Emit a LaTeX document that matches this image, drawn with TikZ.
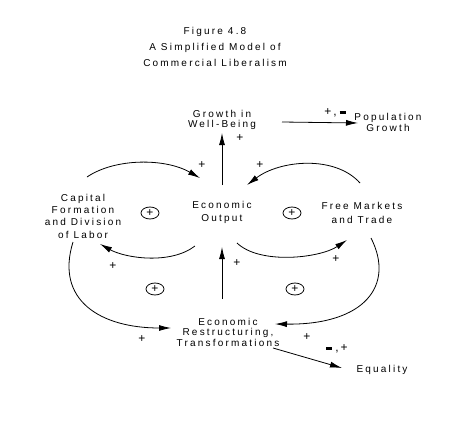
\documentclass[tikz,border=0pt]{standalone}
\usepackage{fontspec}
\newfontfamily\figfont{Liberation Sans}[LetterSpace=22]
\newfontfamily\signfont{Liberation Sans}
\usetikzlibrary{arrows.meta, calc, shapes.geometric}
\newcommand{\negsign}{\rule[0.3ex]{6pt}{3pt}}

\begin{document}
\begin{tikzpicture}[x=1pt, y=-1pt,
    txt/.style={font=\figfont\fontsize{10}{#1}\selectfont, align=center, inner sep=0pt},
    txt/.default=11,
    arrow/.style={-{Latex[length=12pt, width=6pt]}, line width=0.8pt},
    signlbl/.style={font=\signfont\fontsize{12}{12}\selectfont, inner sep=0pt},
    loopsign/.style={ellipse, draw, line width=0.8pt, minimum width=18pt, minimum height=12pt,
        inner sep=0pt, font=\signfont\fontsize{12}{12}\selectfont}
]
\useasboundingbox (0,0) rectangle (475,442);

\node[txt=16] (title) at (215,47) {Figure 4.8\\A Simplified Model of\\Commercial Liberalism};

% factors
\node[txt=10] (growth) at (222,120) {Growth in\\Well-Being};
\node[txt=11] (pop) at (388,122) {Population\\Growth};
\node[txt=13] (output) at (222,212) {Economic\\Output};
\node[txt=12.3] (capital) at (83,216) {Capital\\Formation\\and Division\\of Labor};
\node[txt=14] (markets) at (362,213) {Free Markets\\and Trade};
\node[txt=10.5] (restruct) at (228,332) {Economic\\Restructuring,\\Transformations};
\node[txt] (equality) at (382,370) {Equality};

% straight links
\draw[arrow] ($(output)+(0,-27)$) -- ($(growth)+(0,13)$);
\draw[arrow] ($(restruct)+(-6,-33)$) -- ($(output)+(0,35)$);
\draw[arrow] ($(growth)+(60,2)$) -- ($(pop)+(-30,1)$);
\draw[arrow] ($(restruct)+(45,16)$) -- ($(equality)+(-40,-2)$);

% loops
\draw[arrow] ($(capital)+(4,-39)$) .. controls (115,158) and (165,158) .. ($(output)+(-22,-34)$);
\draw[arrow] ($(output)+(-27,34)$) .. controls (170,265) and (125,258) .. ($(capital)+(17,28)$);
\draw[arrow] ($(markets)+(-2,-30)$) .. controls (335,155) and (280,160) .. ($(output)+(25,-27)$);
\draw[arrow] ($(output)+(15,31)$) .. controls (260,265) and (320,258) .. ($(markets)+(-15,27)$);
\draw[arrow] ($(capital)+(-10,26)$) .. controls (55,300) and (100,328) .. ($(restruct)+(-57,-4)$);
\draw[arrow] ($(markets)+(9,25)$) .. controls (395,285) and (365,325) .. ($(restruct)+(47,-8)$);

% polarities
\foreach \x/\y [count=\i] in {240/138, 202/165, 260/165, 113/266, 237/263, 336/259, 142/339, 307/337}
    \node[signlbl] (plus\i) at (\x,\y) {+};
\node[signlbl] (popsign) at (335,113) {+\hspace{2pt},\hspace{3pt}\negsign};
\node[signlbl] (eqsign) at (337,349) {\negsign\hspace{3pt},\hspace{2pt}+};

% loop markers
\foreach \x/\y [count=\i] in {150/213, 292/213, 155/289, 295/289}
    \node[loopsign] (loop\i) at (\x,\y) {+};

\end{tikzpicture}
\end{document}
